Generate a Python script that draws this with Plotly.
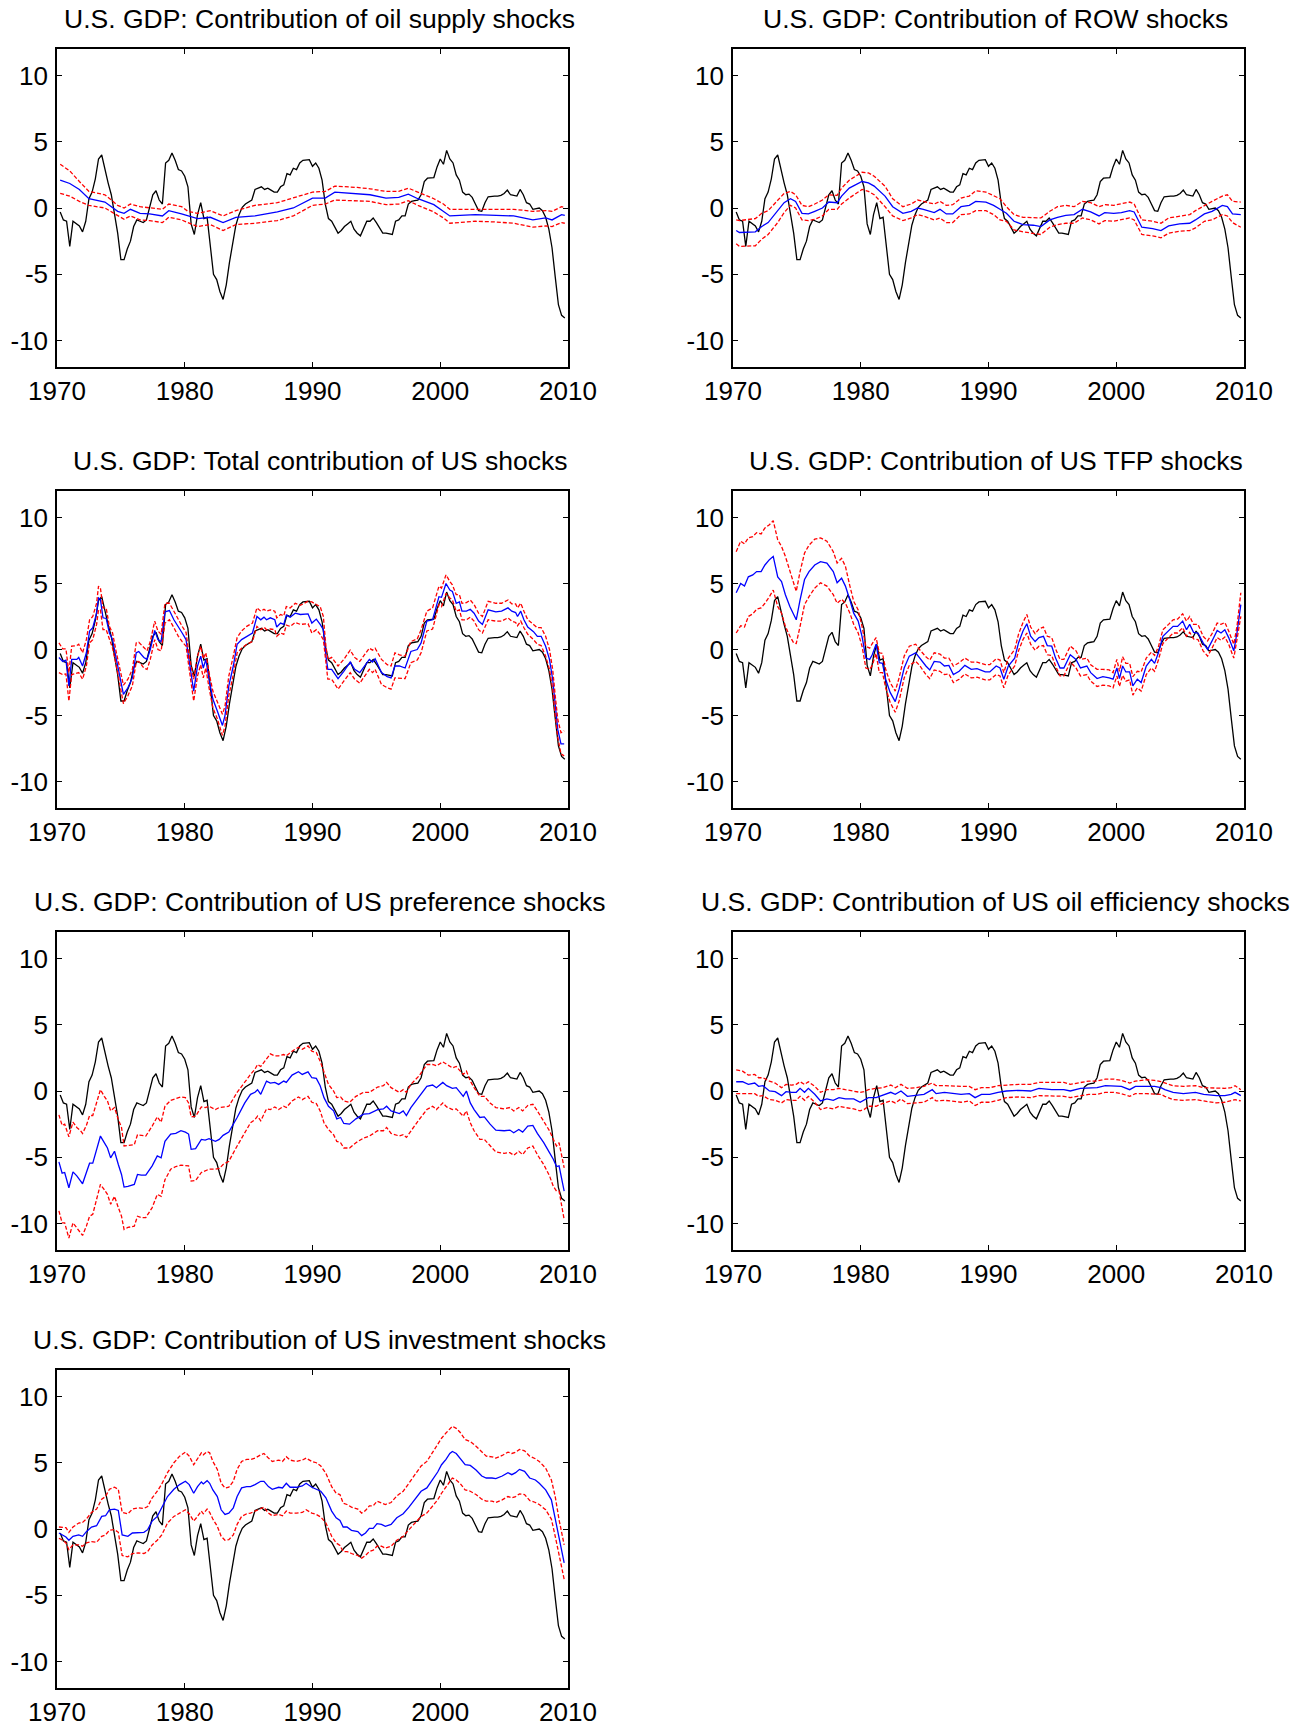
import plotly.graph_objects as go

# ---------------- DATA ----------------
# Actual U.S. GDP (black line), quarterly from 1970.25 to 2009.75
GDP_START = 1970.25
GDP = [
    -0.3, -0.9, -1.0, -2.9,
    -1.0, -1.2, -1.35, -1.8,
    -1.0, 0.7, 1.2, 2.2,
    3.7, 4.0, 2.9, 1.9,
    1.0, -0.4, -1.9, -3.9,
    -3.9, -3.1, -2.5, -1.4,
    -0.9, -1.0, -1.1, -0.9,
    0.1, 1.0, 1.3, 0.6,
    0.3, 3.4, 3.6, 4.15,
    3.6, 2.9, 2.8, 2.4,
    1.6, -1.2, -2.0, -0.5,
    0.4, -0.8, -0.7, -2.9,
    -5.0, -5.4, -6.3, -6.9,
    -5.8, -4.1, -2.6, -1.3,
    -0.5, 0.05, 0.3, 0.45,
    0.6, 1.4, 1.5, 1.6,
    1.4, 1.5, 1.35, 1.2,
    1.2, 1.6, 1.75, 2.6,
    2.5, 3.0, 2.9, 3.4,
    3.6, 3.65, 3.65, 3.15,
    3.4, 3.0, 2.1, 0.3,
    -0.8, -1.0, -1.4, -1.9,
    -1.7, -1.4, -1.2, -1.0,
    -1.6, -1.9, -2.1, -1.6,
    -1.0, -1.0, -0.75, -1.1,
    -1.5, -1.9, -1.9, -1.95,
    -2.0, -1.0, -0.9, -0.6,
    -0.6, 0.3, 0.5, 0.55,
    0.6, 1.0, 2.0, 2.25,
    2.25, 2.3, 3.1, 3.7,
    3.3, 4.35, 3.7, 3.4,
    2.5, 2.1, 1.2, 1.0,
    1.05, 0.8, 0.3, -0.2,
    -0.25, 0.4, 0.85, 0.9,
    0.9, 0.9, 0.95, 1.1,
    1.35, 1.0, 0.95, 0.9,
    1.4, 1.0, 0.4, 0.3,
    -0.1, -0.05, 0.0, -0.2,
    -0.7, -1.6, -3.0, -5.2,
    -7.3, -8.1, -8.3,
]

# Panel 1: oil supply shocks
T1 = [1970.25, 1971.0, 1971.75, 1972.5, 1973.75, 1974.75, 1975.25, 1975.75, 1976.5, 1977.25,
      1978.25, 1978.75, 1979.75, 1980.25, 1981.0, 1982.0, 1983.0, 1984.0, 1985.5, 1987.25,
      1988.5, 1990.0, 1991.0, 1991.75, 1993.5, 1994.5, 1995.75, 1996.75, 1997.5, 1998.25,
      1999.5, 2000.25, 2000.75, 2002.75, 2004.25, 2005.75, 2007.25, 2008.25, 2008.75, 2009.5,
      2009.75]
M1 = [2.1, 1.85, 1.4, 0.7, 0.45, -0.25, -0.4, -0.1, -0.4, -0.45,
      -0.6, -0.2, -0.45, -0.6, -0.8, -0.7, -1.1, -0.7, -0.6, -0.3,
      0.0, 0.75, 0.75, 1.2, 1.1, 1.0, 0.75, 0.8, 1.05, 0.7,
      0.25, -0.25, -0.6, -0.5, -0.55, -0.6, -0.9, -0.75, -0.9, -0.5,
      -0.55]
H1 = [3.3, 2.8, 2.0, 1.25, 1.0, 0.2, 0.0, 0.3, 0.1, 0.0,
      -0.1, 0.3, 0.1, -0.25, -0.4, -0.2, -0.6, -0.2, 0.2, 0.4,
      0.75, 1.2, 1.25, 1.65, 1.55, 1.45, 1.25, 1.25, 1.5, 1.2,
      0.7, 0.3, -0.1, -0.1, -0.1, -0.1, -0.25, -0.2, -0.25, 0.1,
      0.05]
L1 = [1.1, 0.9, 0.5, 0.2, 0.0, -0.6, -0.85, -0.6, -0.9, -0.95,
      -1.1, -0.7, -0.9, -1.1, -1.4, -1.25, -1.7, -1.25, -1.15, -0.95,
      -0.6, 0.2, 0.3, 0.6, 0.55, 0.5, 0.25, 0.3, 0.55, 0.2,
      -0.3, -0.75, -1.15, -1.0, -1.05, -1.15, -1.45, -1.35, -1.4, -1.1,
      -1.15]

# Panel 2: ROW shocks
T2 = [1970.25, 1970.5, 1971.75, 1972.25, 1972.75, 1973.5, 1974.0, 1974.5, 1974.9, 1975.4,
      1975.9, 1976.4, 1977.0, 1977.5, 1978.15, 1978.5, 1979.1, 1980.1, 1980.6, 1981.05,
      1981.9, 1982.5, 1983.3, 1983.95, 1984.45, 1984.9, 1985.75, 1986.2, 1986.7, 1987.2,
      1987.85, 1988.5, 1989.0, 1989.8, 1990.4, 1990.9, 1991.4, 1992.0, 1992.7, 1993.5,
      1994.1, 1994.8, 1995.4, 1996.05, 1996.7, 1997.35, 1998.0, 1998.65, 1999.1, 1999.8,
      2000.4, 2001.05, 2001.4, 2002.0, 2002.85, 2003.5, 2004.1, 2004.95, 2005.75, 2006.2,
      2006.9, 2007.5, 2008.3, 2008.7, 2009.1, 2009.75]
M2 = [-1.7, -1.85, -1.8, -1.4, -1.1, -0.25, 0.4, 0.7, 0.5, -0.4,
      -0.45, -0.25, 0.0, 0.45, 0.4, 0.9, 1.5, 2.0, 1.9, 1.65,
      0.9, 0.1, -0.4, -0.25, 0.0, -0.1, -0.35, -0.1, -0.45, -0.45,
      0.1, 0.2, 0.5, 0.45, 0.2, -0.1, -0.4, -1.0, -1.25, -1.3,
      -1.4, -0.9, -0.7, -0.55, -0.5, -0.1, -0.3, -0.6, -0.35, -0.4,
      -0.35, -0.2, -0.3, -1.45, -1.55, -1.7, -1.35, -1.2, -1.15, -0.9,
      -0.45, -0.25, 0.2, 0.1, -0.45, -0.5]
H2 = [-0.9, -0.95, -0.8, -0.4, -0.2, 0.6, 1.1, 1.25, 1.0, 0.2,
      0.1, 0.3, 0.6, 1.0, 0.95, 1.5, 2.1, 2.7, 2.65, 2.4,
      1.65, 0.7, 0.1, 0.3, 0.6, 0.5, 0.3, 0.5, 0.2, 0.25,
      0.75, 0.9, 1.3, 1.2, 0.9, 0.7, 0.1, -0.5, -0.7, -0.75,
      -0.75, -0.25, 0.1, 0.2, 0.1, 0.5, 0.4, 0.1, 0.25, 0.2,
      0.3, 0.45, 0.3, -0.9, -1.0, -1.15, -0.75, -0.6, -0.5, -0.2,
      0.2, 0.5, 0.9, 1.0, 0.5, 0.45]
L2 = [-2.7, -2.9, -2.85, -2.35, -2.0, -1.1, -0.35, 0.2, 0.0, -0.9,
      -0.95, -0.85, -0.6, -0.1, -0.1, 0.3, 0.75, 1.4, 1.25, 1.0,
      0.1, -0.6, -0.95, -0.75, -0.5, -0.6, -0.9, -0.75, -1.1, -1.1,
      -0.5, -0.45, -0.2, -0.2, -0.5, -0.9, -1.0, -1.65, -1.8, -1.9,
      -2.0, -1.45, -1.25, -1.15, -1.15, -0.75, -0.9, -1.2, -0.95, -1.0,
      -0.9, -0.75, -0.9, -2.0, -2.1, -2.25, -1.9, -1.75, -1.7, -1.5,
      -1.0, -0.9, -0.5, -0.6, -1.1, -1.45]

# Panel 3: total contribution of US shocks
T3 = [1970.15, 1970.45, 1970.7, 1970.93, 1971.15, 1971.55, 1971.7, 1972.0, 1972.3, 1972.55,
      1972.8, 1973.1, 1973.25, 1973.4, 1973.6, 1973.85, 1974.1, 1974.35, 1974.65, 1974.95,
      1975.2, 1975.55, 1975.9, 1976.2, 1976.4, 1976.8, 1977.05, 1977.3, 1977.65, 1977.9,
      1978.15, 1978.45, 1978.8, 1979.15, 1979.5, 1979.8, 1980.1, 1980.35, 1980.7, 1981.0,
      1981.25, 1981.45, 1981.65, 1981.9, 1982.2, 1982.55, 1982.95, 1983.15, 1983.45, 1983.8,
      1984.1, 1984.45, 1984.85, 1985.3, 1985.65, 1985.95, 1986.2, 1986.4, 1986.7, 1987.05,
      1987.2, 1987.5, 1987.75, 1987.95, 1988.25, 1988.65, 1989.05, 1989.65, 1989.95, 1990.3,
      1990.6, 1990.85, 1991.05, 1991.2, 1991.5, 1992.0, 1992.45, 1992.95, 1993.3, 1993.7,
      1994.45, 1994.7, 1994.9, 1995.4, 1995.85, 1996.15, 1996.45, 1996.8, 1997.25, 1997.7,
      1998.2, 1998.5, 1998.95, 1999.4, 1999.9, 2000.1, 2000.45, 2000.75, 2000.95, 2001.25,
      2001.5, 2001.7, 2002.05, 2002.35, 2002.65, 2003.0, 2003.3, 2003.75, 2004.35, 2004.8,
      2005.3, 2005.6, 2005.9, 2006.05, 2006.3, 2006.55, 2006.85, 2007.3, 2007.6, 2007.9,
      2008.25, 2008.55, 2008.8, 2009.0, 2009.2, 2009.45, 2009.7]
M3 = [-0.6, -0.9, -0.8, -2.75, -0.75, -0.75, -0.6, -1.25, -0.25, 1.4,
      1.65, 2.75, 3.9, 3.8, 2.4, 2.35, 1.25, 0.75, -0.75, -2.25,
      -3.4, -2.9, -2.15, -0.25, -0.15, -0.6, -0.75, 0.0, 1.45, 0.75,
      0.6, 2.85, 2.95, 2.25, 1.65, 1.25, 0.75, -1.0, -3.15, -1.25,
      -0.5, -1.4, -0.75, -2.25, -3.75, -4.65, -5.75, -5.0, -2.75, -1.25,
      0.4, 0.75, 1.0, 1.25, 2.5, 2.25, 2.45, 2.25, 2.4, 2.25,
      1.7, 2.0, 1.9, 2.6, 2.45, 2.75, 2.65, 2.7, 2.0, 2.3,
      1.9, 1.5, -0.5, -1.5, -1.5, -2.2, -1.65, -0.95, -1.5, -1.75,
      -0.75, -0.95, -0.7, -1.75, -2.05, -2.15, -1.25, -1.25, -1.4, -0.15,
      0.0, 0.5, 2.15, 2.25, 4.0, 3.95, 5.0, 4.5, 4.4, 3.5,
      3.6, 2.9, 2.9, 3.05, 2.75, 2.15, 1.9, 3.0, 2.85, 2.9,
      3.15, 2.9, 2.8, 2.5, 2.9, 2.25, 1.7, 1.35, 1.0, 1.0,
      0.25, -0.75, -2.25, -4.3, -6.05, -7.15, -7.15]
H3 = [0.5, 0.05, 0.05, -1.75, 0.25, 0.3, 0.4, -0.25, 0.75, 2.25,
      2.5, 3.5, 4.8, 4.65, 3.15, 3.15, 1.75, 1.25, -0.25, -1.75,
      -2.7, -2.25, -1.5, 0.5, 0.55, 0.15, -0.1, 0.6, 2.15, 1.4,
      1.15, 3.5, 3.5, 2.9, 2.25, 1.75, 1.3, -0.5, -2.25, -0.5,
      0.25, -0.7, -0.25, -1.75, -3.15, -4.0, -4.9, -4.3, -2.0, -0.5,
      0.9, 1.4, 1.75, 2.0, 3.15, 2.9, 3.05, 2.9, 3.0, 2.9,
      2.4, 2.65, 2.55, 3.25, 3.15, 3.5, 3.35, 3.65, 3.6, 3.4,
      3.25, 2.5, 0.25, -0.75, -0.6, -1.25, -0.75, -0.05, -0.6, -0.9,
      0.1, -0.05, 0.1, -0.75, -1.15, -1.25, -0.25, -0.4, -0.5, 0.6,
      0.8, 1.5, 2.9, 3.15, 4.8, 4.65, 5.65, 5.15, 4.9, 4.15,
      4.15, 3.5, 3.55, 3.75, 3.4, 2.75, 2.5, 3.65, 3.5, 3.5,
      3.75, 3.45, 3.45, 3.15, 3.5, 2.9, 2.25, 1.9, 1.65, 1.65,
      1.0, 0.0, -1.5, -3.5, -5.3, -6.3, -6.15]
L3 = [-1.75, -1.9, -1.85, -3.9, -1.9, -1.8, -1.75, -2.25, -1.25, 0.5,
      0.75, 1.9, 3.0, 3.0, 1.5, 1.5, 0.75, 0.1, -1.25, -2.9,
      -4.1, -3.5, -2.75, -0.95, -0.9, -1.4, -1.5, -0.75, 0.75, 0.0,
      -0.1, 2.0, 2.25, 1.65, 1.0, 0.6, 0.25, -1.5, -3.9, -2.0,
      -1.15, -2.15, -1.4, -2.9, -4.4, -5.25, -6.5, -5.8, -3.5, -1.9,
      -0.25, 0.1, 0.4, 0.6, 1.75, 1.5, 1.7, 1.5, 1.55, 1.5,
      1.0, 1.25, 1.15, 1.85, 1.75, 2.05, 1.9, 1.95, 1.25, 1.5,
      1.15, 0.75, -1.25, -2.25, -2.25, -3.0, -2.4, -1.75, -2.25, -2.55,
      -1.5, -1.75, -1.5, -2.65, -2.9, -3.0, -2.15, -2.15, -2.2, -1.0,
      -0.8, -0.25, 1.4, 1.55, 3.4, 3.25, 4.25, 3.9, 3.75, 2.9,
      3.0, 2.25, 2.25, 2.45, 2.15, 1.5, 1.25, 2.25, 2.15, 2.15,
      2.4, 2.15, 2.05, 1.8, 2.15, 1.65, 1.15, 0.75, 0.4, 0.3,
      -0.5, -1.5, -3.0, -5.0, -6.65, -7.9, -8.05]

# Panel 4: US TFP shocks
T4 = [1970.25, 1970.6, 1970.9, 1971.2, 1971.55, 1971.85, 1972.2, 1972.5, 1972.85, 1973.15,
      1973.5, 1973.8, 1974.1, 1974.45, 1974.75, 1974.95, 1975.25, 1975.6, 1975.95, 1976.4,
      1976.85, 1977.35, 1977.85, 1978.15, 1978.5, 1978.8, 1979.15, 1979.45, 1979.8, 1980.1,
      1980.4, 1980.7, 1980.9, 1981.2, 1981.45, 1981.7, 1981.95, 1982.3, 1982.7, 1983.0,
      1983.4, 1983.8, 1984.3, 1984.6, 1985.1, 1985.4, 1985.75, 1986.2, 1986.55, 1986.9,
      1987.25, 1987.7, 1988.15, 1988.65, 1989.1, 1989.75, 1990.1, 1990.6, 1990.9, 1991.2,
      1991.55, 1992.05, 1992.35, 1992.7, 1993.0, 1993.3, 1993.65, 1993.95, 1994.3, 1994.6,
      1994.95, 1995.25, 1995.6, 1995.9, 1996.4, 1996.85, 1997.2, 1997.7, 1998.0, 1998.5,
      1998.95, 1999.45, 1999.75, 2000.05, 2000.25, 2000.5, 2000.75, 2001.05, 2001.3, 2001.65,
      2001.95, 2002.35, 2002.75, 2003.0, 2003.3, 2003.65, 2004.1, 2004.45, 2004.8, 2005.2,
      2005.5, 2005.75, 2006.05, 2006.4, 2006.8, 2007.15, 2007.5, 2007.9, 2008.2, 2008.5,
      2008.8, 2009.2, 2009.45, 2009.75]
M4 = [4.3, 5.0, 4.8, 5.5, 5.65, 5.9, 5.9, 6.4, 6.8, 7.05,
      5.5, 5.15, 4.15, 3.25, 2.65, 2.25, 3.75, 5.3, 5.9, 6.4,
      6.65, 6.55, 5.9, 5.05, 5.4, 4.8, 3.75, 2.75, 2.15, 1.0,
      -0.65, -0.75, -0.4, 0.4, -1.0, -1.05, -2.25, -3.25, -3.95, -3.0,
      -1.4, -0.5, -0.25, -0.65, -1.25, -1.55, -0.9, -0.95, -1.25, -1.2,
      -1.9, -1.65, -1.2, -1.5, -1.45, -1.7, -1.7, -1.25, -1.4, -2.25,
      -1.25, -0.65, 0.5, 1.4, 1.95, 1.0, 0.6, 0.9, 1.0, 0.3,
      0.25, -0.65, -1.4, -1.4, -0.4, -0.75, -1.4, -1.25, -1.75, -2.2,
      -2.05, -2.15, -2.25, -1.4, -2.2, -1.25, -1.7, -1.7, -2.75, -2.25,
      -2.5, -1.25, -0.75, -1.05, -0.25, 1.0, 1.4, 1.75, 1.75, 2.15,
      1.5, 1.9, 1.3, 1.25, 0.5, 0.0, 0.65, 1.45, 1.25, 1.5,
      0.9, -0.1, 1.25, 3.4]
H4 = [7.4, 8.2, 8.0, 8.45, 8.55, 8.85, 8.75, 9.2, 9.45, 9.75,
      8.3, 7.8, 7.05, 5.9, 5.05, 4.4, 5.9, 7.3, 7.9, 8.35,
      8.45, 8.2, 7.4, 6.55, 6.9, 6.3, 4.8, 3.65, 3.0, 1.75,
      0.25, 0.1, 0.45, 0.9, -0.25, -0.3, -1.5, -2.5, -3.15, -2.15,
      -0.5, 0.25, 0.4, 0.0, -0.55, -0.8, -0.25, -0.35, -0.65, -0.65,
      -1.25, -1.0, -0.65, -0.95, -0.95, -1.15, -1.15, -0.7, -0.8, -1.75,
      -0.65, 0.0, 1.15, 2.05, 2.65, 1.7, 1.2, 1.55, 1.7, 1.0,
      0.9, 0.05, -0.75, -0.75, 0.25, -0.1, -0.75, -0.65, -1.15, -1.5,
      -1.5, -1.55, -1.75, -0.75, -1.65, -0.55, -1.05, -1.05, -2.05, -1.65,
      -1.7, -0.65, -0.2, -0.45, 0.2, 1.5, 1.9, 2.25, 2.3, 2.7,
      2.15, 2.5, 1.9, 1.9, 1.0, 0.65, 1.2, 2.0, 1.9, 2.05,
      1.4, 0.4, 1.75, 4.3]
L4 = [1.25, 1.8, 1.7, 2.5, 2.7, 3.05, 3.15, 3.5, 4.0, 4.5,
      3.25, 2.75, 1.75, 1.0, 0.5, 0.45, 1.75, 3.4, 4.0, 4.65,
      5.05, 4.8, 4.15, 3.5, 3.8, 3.5, 2.75, 1.9, 1.25, 0.25,
      -1.4, -1.5, -1.2, -0.3, -1.75, -1.75, -2.9, -4.0, -4.75, -3.9,
      -2.15, -1.2, -0.9, -1.2, -1.9, -2.2, -1.55, -1.65, -1.9, -1.85,
      -2.5, -2.25, -1.85, -2.15, -2.1, -2.3, -2.3, -1.9, -2.0, -2.9,
      -1.9, -1.25, -0.1, 0.75, 1.25, 0.4, -0.05, 0.25, 0.3, -0.4,
      -0.45, -1.25, -2.0, -2.0, -0.95, -1.4, -2.0, -1.9, -2.4, -2.8,
      -2.7, -2.75, -2.9, -2.0, -2.8, -1.95, -2.4, -2.3, -3.45, -2.9,
      -3.15, -1.9, -1.4, -1.65, -0.8, 0.45, 0.9, 1.25, 1.25, 1.65,
      1.0, 1.3, 0.8, 0.75, -0.1, -0.5, 0.1, 0.9, 0.7, 0.95,
      0.4, -0.65, 0.75, 2.5]

# Panel 5: US preference shocks
T5 = [1970.15, 1970.4, 1970.6, 1970.93, 1971.25, 1971.55, 1971.85, 1972.0, 1972.3, 1972.55,
      1972.8, 1973.1, 1973.4, 1973.7, 1973.95, 1974.2, 1974.5, 1974.8, 1975.05, 1975.25,
      1975.55, 1976.05, 1976.3, 1976.6, 1976.95, 1977.45, 1977.85, 1978.15, 1978.45, 1978.9,
      1979.3, 1979.7, 1980.05, 1980.3, 1980.5, 1980.85, 1981.3, 1981.6, 1981.9, 1982.4,
      1982.7, 1983.0, 1983.45, 1984.1, 1984.7, 1985.15, 1985.5, 1985.7, 1985.95, 1986.4,
      1986.7, 1987.05, 1987.35, 1987.75, 1987.95, 1988.4, 1988.9, 1989.2, 1989.65, 1989.95,
      1990.3, 1990.6, 1990.9, 1991.25, 1991.65, 1991.9, 1992.2, 1992.45, 1992.9, 1993.4,
      1994.0, 1994.45, 1995.1, 1995.55, 1995.8, 1996.15, 1996.8, 1997.1, 1997.35, 1997.7,
      1998.35, 1998.95, 1999.4, 1999.7, 2000.2, 2000.5, 2000.95, 2001.25, 2001.55, 2001.8,
      2002.05, 2002.35, 2002.65, 2003.1, 2003.45, 2003.9, 2004.35, 2005.0, 2005.45, 2005.75,
      2006.15, 2006.45, 2006.85, 2007.25, 2007.6, 2008.1, 2008.55, 2008.85, 2009.1, 2009.3,
      2009.7]
M5 = [-5.35, -6.2, -6.15, -7.3, -6.1, -6.4, -6.8, -7.0, -6.15, -5.45,
      -5.45, -4.4, -3.4, -3.9, -4.3, -5.05, -4.55, -5.55, -6.3, -7.25,
      -7.2, -7.05, -6.3, -6.35, -6.35, -5.65, -4.9, -5.05, -3.8, -3.25,
      -3.2, -3.0, -3.1, -3.25, -4.4, -4.35, -3.65, -3.7, -3.6, -3.8,
      -3.65, -3.35, -3.1, -2.0, -0.9, -0.25, -0.1, 0.1, -0.25, 0.75,
      0.6, 0.65, 0.5, 0.75, 0.65, 1.2, 1.45, 1.25, 1.45, 1.0,
      0.95, 0.4, -0.5, -1.15, -1.5, -2.1, -2.0, -2.45, -2.5, -2.1,
      -1.75, -1.7, -1.4, -1.35, -1.15, -1.5, -1.7, -1.5, -1.85, -1.25,
      -0.4, 0.35, 0.45, 0.25, 0.65, 0.4, 0.2, 0.25, -0.1, -0.4,
      0.0, -0.9, -1.4, -2.0, -1.95, -2.5, -2.95, -3.0, -2.95, -3.15,
      -2.9, -3.1, -2.65, -2.6, -3.2, -3.9, -4.65, -5.15, -5.7, -5.65,
      -7.55]
H5 = [-1.8, -2.6, -2.5, -3.45, -2.35, -2.75, -3.0, -3.2, -2.6, -1.85,
      -1.85, -0.85, 0.1, -0.4, -0.75, -1.5, -1.25, -2.15, -2.75, -4.15,
      -4.1, -4.05, -3.3, -3.35, -3.4, -2.65, -1.95, -2.35, -1.15, -0.7,
      -0.6, -0.45, -0.5, -0.9, -1.95, -1.9, -1.2, -1.25, -1.15, -1.4,
      -1.25, -1.2, -1.15, -0.1, 0.7, 1.25, 1.65, 2.0, 1.85, 2.4,
      2.8, 2.65, 2.65, 2.75, 2.65, 3.0, 3.3, 3.15, 3.4, 3.0,
      2.9, 2.25, 1.4, 0.5, 0.0, -0.5, -0.45, -0.75, -0.85, -0.4,
      -0.1, -0.1, 0.3, 0.4, 0.65, 0.25, -0.1, 0.1, -0.1, 0.5,
      1.15, 2.0, 2.0, 1.9, 2.2, 2.0, 1.75, 1.85, 1.5, 1.25,
      1.5, 0.75, 0.25, -0.4, -0.4, -0.9, -1.25, -1.35, -1.25, -1.5,
      -1.25, -1.5, -1.1, -1.0, -1.5, -2.25, -3.0, -3.65, -4.15, -3.9,
      -5.8]
L5 = [-9.05, -9.95, -9.95, -11.1, -9.95, -10.3, -10.7, -10.9, -10.2, -9.45,
      -9.3, -8.2, -7.05, -7.45, -7.8, -8.55, -7.95, -8.8, -9.45, -10.45,
      -10.3, -10.2, -9.45, -9.55, -9.55, -8.8, -7.8, -7.95, -6.7, -5.9,
      -5.7, -5.6, -5.6, -5.65, -6.8, -6.75, -6.15, -6.05, -5.9, -5.9,
      -5.85, -5.55, -5.3, -4.15, -3.15, -2.4, -2.15, -1.9, -2.25, -1.35,
      -1.4, -1.2, -1.4, -1.15, -1.25, -0.75, -0.45, -0.65, -0.4, -0.85,
      -0.95, -1.5, -2.4, -2.9, -3.3, -3.8, -3.9, -4.3, -4.3, -3.9,
      -3.55, -3.4, -3.0, -3.0, -2.75, -3.2, -3.4, -3.3, -3.5, -3.0,
      -2.15, -1.4, -1.15, -1.4, -0.9, -1.2, -1.4, -1.35, -1.65, -1.9,
      -1.5, -2.4, -3.0, -3.65, -3.65, -4.15, -4.6, -4.7, -4.65, -4.85,
      -4.55, -4.8, -4.3, -4.15, -4.8, -5.55, -6.4, -7.2, -7.55, -7.55,
      -9.7]

# Panel 6: US oil efficiency shocks
T6 = [1970.25, 1970.75, 1971.2, 1971.7, 1972.0, 1972.35, 1972.85, 1973.3, 1973.8, 1974.15,
      1974.6, 1974.95, 1975.25, 1975.6, 1975.9, 1976.4, 1976.85, 1977.35, 1977.85, 1978.3,
      1978.8, 1979.45, 1979.95, 1980.25, 1980.6, 1981.2, 1981.7, 1982.35, 1982.7, 1983.15,
      1983.65, 1984.3, 1984.95, 1985.6, 1985.9, 1986.55, 1987.2, 1987.85, 1988.5, 1988.95,
      1989.45, 1990.1, 1990.75, 1991.4, 1992.35, 1993.3, 1993.95, 1994.95, 1995.9, 1996.4,
      1997.2, 1997.85, 1998.5, 1999.15, 1999.8, 2000.4, 2001.05, 2001.5, 2002.35, 2003.0,
      2003.5, 2003.8, 2004.45, 2005.25, 2006.2, 2006.85, 2007.85, 2008.5, 2009.0, 2009.3,
      2009.75]
M6 = [0.7, 0.7, 0.5, 0.6, 0.35, 0.4, 0.0, -0.05, -0.35, -0.05,
      -0.1, -0.1, 0.2, -0.1, 0.2, -0.25, -0.75, -0.6, -0.7, -0.5,
      -0.6, -0.6, -0.85, -0.7, -0.5, -0.5, -0.35, -0.1, -0.25, 0.0,
      -0.4, -0.35, -0.25, 0.1, -0.2, -0.1, -0.2, -0.25, -0.2, -0.5,
      -0.25, -0.25, -0.1, 0.0, 0.05, 0.0, 0.2, 0.1, 0.1, 0.0,
      0.2, 0.25, 0.25, 0.4, 0.4, 0.35, 0.1, 0.35, 0.35, 0.35,
      0.25, 0.1, -0.1, -0.2, -0.1, -0.25, -0.35, -0.35, -0.25, -0.1,
      -0.35]
H6 = [1.6, 1.5, 1.2, 1.25, 1.0, 1.0, 0.75, 0.6, 0.25, 0.5,
      0.45, 0.5, 0.7, 0.5, 0.7, 0.35, -0.1, 0.1, 0.1, 0.2,
      0.1, 0.0, -0.1, -0.05, 0.1, 0.2, 0.25, 0.45, 0.25, 0.5,
      0.2, 0.25, 0.35, 0.6, 0.4, 0.4, 0.35, 0.35, 0.35, 0.1,
      0.25, 0.25, 0.4, 0.45, 0.5, 0.5, 0.65, 0.65, 0.65, 0.5,
      0.65, 0.75, 0.75, 0.9, 0.9, 0.8, 0.6, 0.75, 0.85, 0.8,
      0.7, 0.6, 0.4, 0.35, 0.4, 0.25, 0.2, 0.2, 0.25, 0.4,
      0.1]
L6 = [-0.2, -0.2, -0.25, -0.2, -0.4, -0.35, -0.65, -0.7, -0.9, -0.65,
      -0.7, -0.7, -0.4, -0.7, -0.4, -0.85, -1.4, -1.25, -1.35, -1.15,
      -1.25, -1.35, -1.5, -1.4, -1.15, -1.15, -0.95, -0.75, -0.9, -0.6,
      -0.95, -0.9, -0.85, -0.5, -0.75, -0.7, -0.75, -0.85, -0.75, -1.1,
      -0.85, -0.85, -0.7, -0.5, -0.45, -0.5, -0.35, -0.4, -0.4, -0.5,
      -0.35, -0.25, -0.25, -0.1, -0.1, -0.2, -0.4, -0.2, -0.2, -0.2,
      -0.25, -0.4, -0.65, -0.7, -0.65, -0.75, -0.9, -0.85, -0.75, -0.65,
      -0.75]

# Panel 7: US investment shocks
T7 = [1970.15, 1970.45, 1970.7, 1970.93, 1971.25, 1971.7, 1972.0, 1972.3, 1972.7, 1973.1,
      1973.5, 1973.8, 1974.1, 1974.5, 1974.8, 1975.1, 1975.55, 1975.9, 1976.35, 1976.8,
      1977.1, 1977.45, 1977.85, 1978.2, 1978.65, 1979.15, 1979.6, 1980.05, 1980.35, 1980.7,
      1981.0, 1981.3, 1981.45, 1981.75, 1981.95, 1982.2, 1982.55, 1982.85, 1983.15, 1983.45,
      1983.8, 1984.1, 1984.45, 1984.85, 1985.15, 1985.5, 1985.95, 1986.2, 1986.55, 1986.85,
      1987.35, 1987.65, 1987.95, 1988.25, 1988.75, 1989.2, 1989.5, 1989.95, 1990.3, 1990.65,
      1991.05, 1991.5, 1991.85, 1992.15, 1992.4, 1992.7, 1993.05, 1993.55, 1993.85, 1994.15,
      1994.45, 1994.75, 1995.05, 1995.4, 1995.7, 1996.15, 1996.6, 1997.1, 1997.55, 1998.0,
      1998.5, 1998.95, 1999.4, 1999.8, 2000.1, 2000.45, 2000.75, 2000.95, 2001.25, 2001.55,
      2001.95, 2002.35, 2002.8, 2003.25, 2003.6, 2004.05, 2004.35, 2004.85, 2005.3, 2005.6,
      2005.9, 2006.2, 2006.6, 2007.0, 2007.45, 2007.75, 2008.25, 2008.7, 2009.0, 2009.3,
      2009.7]
M7 = [-0.3, -0.45, -0.6, -0.85, -0.55, -0.45, -0.55, -0.2, 0.15, 0.25,
      0.95, 1.0, 1.45, 1.5, 1.4, -0.45, -0.55, -0.3, -0.25, -0.25,
      -0.05, 0.6, 0.95, 1.6, 2.45, 3.0, 3.35, 3.6, 3.35, 2.7,
      3.2, 3.55, 3.4, 3.65, 3.45, 2.95, 2.45, 1.45, 1.1, 1.2,
      1.6, 2.45, 3.1, 3.2, 3.2, 3.35, 3.6, 3.6, 3.2, 3.0,
      3.15, 3.1, 3.45, 3.15, 3.15, 3.25, 3.45, 3.15, 3.0, 2.85,
      2.35, 1.35, 0.85, 0.65, 0.15, 0.15, -0.1, -0.2, -0.5, -0.3,
      0.05, 0.05, 0.4, 0.35, 0.2, 0.35, 0.85, 1.15, 1.65, 2.2,
      2.85, 3.1, 3.7, 4.3, 4.85, 5.25, 5.7, 5.85, 5.7, 5.35,
      4.85, 4.8, 4.45, 4.0, 3.85, 3.85, 3.8, 4.0, 4.25, 4.1,
      4.25, 4.5, 4.35, 3.85, 3.7, 3.45, 2.95, 2.2, 0.85, -0.7,
      -2.55]
H7 = [0.15, 0.15, 0.1, -0.25, 0.15, 0.45, 0.5, 0.75, 1.25, 1.5,
      2.25, 2.45, 3.0, 3.15, 3.0, 1.25, 1.15, 1.5, 1.6, 1.55,
      1.7, 2.35, 2.85, 3.4, 4.25, 5.0, 5.5, 5.8, 5.5, 4.85,
      5.35, 5.75, 5.6, 5.85, 5.75, 5.1, 4.5, 3.45, 3.1, 3.15,
      3.6, 4.5, 5.1, 5.25, 5.25, 5.35, 5.6, 5.7, 5.35, 5.1,
      5.2, 5.1, 5.45, 5.2, 5.1, 5.2, 5.35, 5.1, 5.0, 4.75,
      4.2, 3.2, 2.7, 2.6, 1.95, 1.85, 1.65, 1.5, 1.2, 1.4,
      1.75, 1.75, 2.1, 1.95, 1.85, 2.0, 2.5, 2.85, 3.45, 4.1,
      4.75, 5.1, 5.8, 6.35, 6.85, 7.25, 7.6, 7.75, 7.6, 7.3,
      6.75, 6.6, 6.25, 5.8, 5.5, 5.45, 5.35, 5.55, 5.8, 5.7,
      5.8, 6.0, 5.9, 5.5, 5.3, 5.1, 4.6, 3.7, 2.45, 0.7,
      -1.2]
L7 = [-0.7, -0.85, -1.05, -1.55, -1.2, -1.2, -1.3, -1.05, -0.95, -1.0,
      -0.55, -0.45, -0.1, -0.05, -0.25, -2.0, -2.1, -1.85, -1.8, -1.85,
      -1.7, -1.2, -0.85, -0.45, 0.45, 0.95, 1.2, 1.45, 1.15, 0.6,
      0.95, 1.35, 1.15, 1.5, 1.25, 0.75, 0.2, -0.55, -0.85, -0.8,
      -0.45, 0.35, 0.95, 1.15, 1.2, 1.35, 1.6, 1.65, 1.2, 1.0,
      1.1, 1.0, 1.35, 1.2, 1.2, 1.25, 1.45, 1.2, 1.1, 0.9,
      0.45, -0.55, -1.05, -1.25, -1.7, -1.7, -1.85, -2.0, -2.2, -2.0,
      -1.7, -1.6, -1.3, -1.3, -1.45, -1.3, -0.85, -0.55, -0.05, 0.45,
      0.95, 1.2, 1.7, 2.2, 2.7, 3.15, 3.6, 3.85, 3.7, 3.45,
      2.95, 2.85, 2.6, 2.25, 2.1, 2.1, 2.0, 2.2, 2.45, 2.35,
      2.45, 2.65, 2.6, 2.15, 2.0, 1.85, 1.45, 0.75, -0.55, -2.05,
      -3.8]

TITLES = [
    "U.S. GDP: Contribution of oil supply shocks",
    "U.S. GDP: Contribution of ROW shocks",
    "U.S. GDP: Total contribution of US shocks",
    "U.S. GDP: Contribution of US TFP shocks",
    "U.S. GDP: Contribution of US preference shocks",
    "U.S. GDP: Contribution of US oil efficiency shocks",
    "U.S. GDP: Contribution of US investment shocks",
]
X_TICKS = [1970, 1980, 1990, 2000, 2010]
Y_TICKS = [-10, -5, 0, 5, 10]
Y_TICKTEXT = ["-10", "-5", "0", "5", "10"]

# ---------------- LAYOUT / STYLE ----------------
W, H = 1307, 1729
# plot boxes in page pixels
COLS = [(57, 568), (733, 1244)]
ROWS = [(49, 367), (491, 808), (932, 1250), (1370, 1688)]
FONT = "Liberation Sans, Arial, Helvetica, sans-serif"


def px_x(p):
    return p / W


def px_y(p):
    return 1 - p / H


PANELS = [
    (T1, M1, H1, L1), (T2, M2, H2, L2), (T3, M3, H3, L3), (T4, M4, H4, L4),
    (T5, M5, H5, L5), (T6, M6, H6, L6), (T7, M7, H7, L7),
]
for t, m, h, l in PANELS:
    assert len(t) == len(m) == len(h) == len(l), (len(t), len(m), len(h), len(l))

TQ = [GDP_START + 0.25 * i for i in range(len(GDP))]

fig = go.Figure()
layout = dict(
    template="none",
    width=W, height=H, autosize=False,
    margin=dict(l=0, r=0, t=0, b=0, pad=0),
    paper_bgcolor="white", plot_bgcolor="white",
    showlegend=False,
    font=dict(family=FONT, color="black", size=26),
    annotations=[],
)

for k, (t, m, h, l) in enumerate(PANELS):
    r, c = divmod(k, 2)
    x0, x1 = COLS[c]
    y0, y1 = ROWS[r]
    xa = "x" if k == 0 else f"x{k+1}"
    ya = "y" if k == 0 else f"y{k+1}"
    fig.add_trace(go.Scatter(x=TQ, y=GDP, mode="lines", xaxis=xa, yaxis=ya,
                             line=dict(color="black", width=1.3), hoverinfo="skip"))
    fig.add_trace(go.Scatter(x=t, y=m, mode="lines", xaxis=xa, yaxis=ya,
                             line=dict(color="#0000FF", width=1.3), hoverinfo="skip"))
    for band in (h, l):
        fig.add_trace(go.Scatter(x=t, y=band, mode="lines", xaxis=xa, yaxis=ya,
                                 line=dict(color="#FF0000", width=1.3, dash="4px,2px"),
                                 hoverinfo="skip"))
    axis_common = dict(
        showline=True, linecolor="black", linewidth=1.6, mirror="ticks",
        ticks="inside", ticklen=5, tickwidth=1, tickcolor="black",
        showgrid=False, zeroline=False, automargin=False,
        tickfont=dict(family=FONT, size=26, color="black"),
    )
    xkey = "xaxis" if k == 0 else f"xaxis{k+1}"
    ykey = "yaxis" if k == 0 else f"yaxis{k+1}"
    layout[xkey] = dict(axis_common, domain=[px_x(x0), px_x(x1)], range=[1970, 2010],
                        tickmode="array", tickvals=X_TICKS,
                        ticktext=[str(v) for v in X_TICKS],
                        anchor=ya, ticklabelstandoff=0)
    layout[ykey] = dict(axis_common, domain=[px_y(y1), px_y(y0)], range=[-12, 12],
                        tickmode="array", tickvals=Y_TICKS, ticktext=Y_TICKTEXT,
                        anchor=xa, ticklabelstandoff=2)
    layout["annotations"].append(dict(
        text=TITLES[k], xref="paper", yref="paper",
        x=px_x((x0 + x1) / 2 + 7), y=px_y(y0 - 30),
        xanchor="center", yanchor="middle", showarrow=False,
        font=dict(family=FONT, size=26.5, color="black"),
    ))

fig.update_layout(**layout)
# remove the browser's default 8px body margin so the figure fills the window exactly
fig.write_html(
    "out.html",
    config={"displayModeBar": False},
    post_script="document.body.style.margin='0';document.body.style.overflow='hidden';",
)
